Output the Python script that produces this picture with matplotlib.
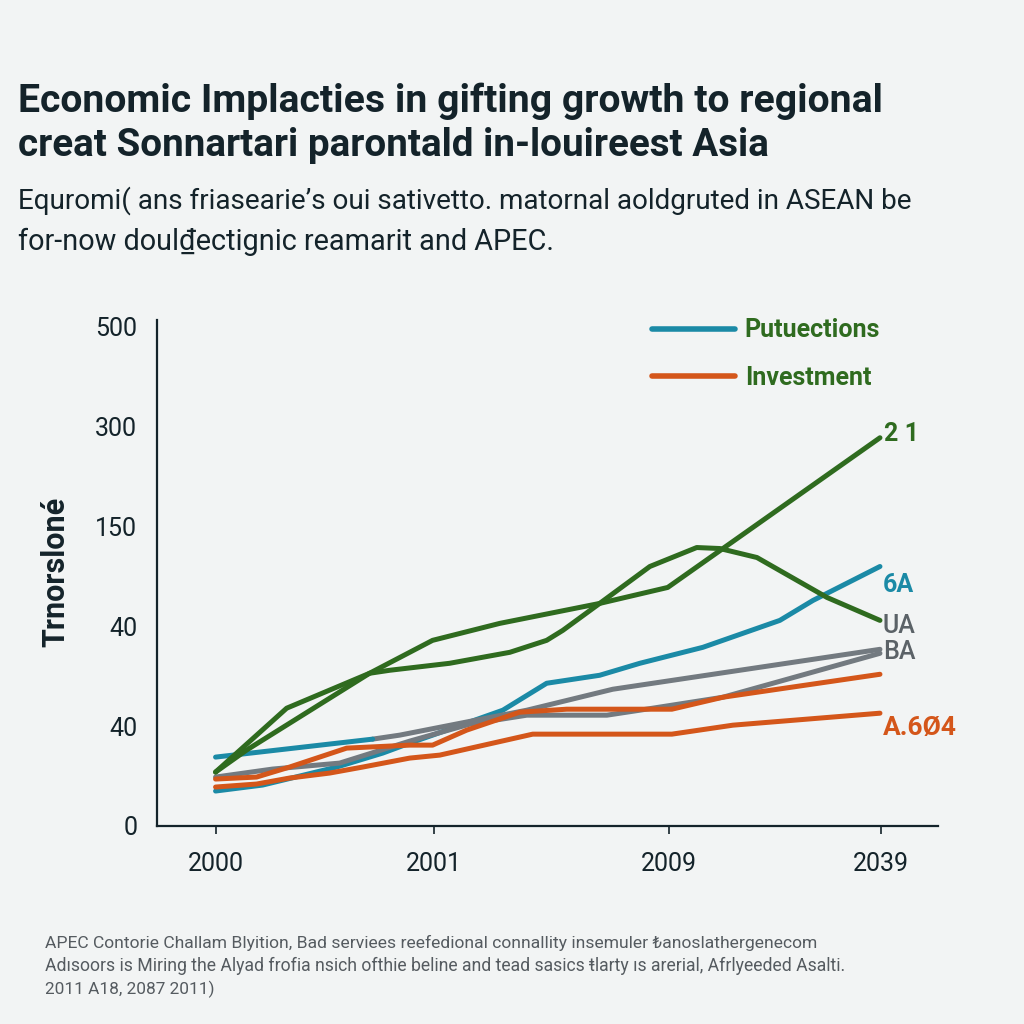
import matplotlib
matplotlib.use('Agg')
import matplotlib.pyplot as plt
from matplotlib import font_manager as fm
from matplotlib.lines import Line2D

# ---------------- data ----------------
x_ticks = [0.0, 1.0, 2.08, 3.05]
x_tick_labels = ['2000', '2001', '2009', '2039']
y_ticks = [0, 1, 2, 3, 4, 5]
y_tick_labels = ['0', '40', '40', '150', '300', '500']

green_hump_x = [0.0, 0.326, 0.706, 0.798, 1.073, 1.349, 1.518, 1.592, 1.761, 1.991, 2.206, 2.312, 2.482, 2.803, 3.046]
green_hump_y = [0.54, 1.18, 1.53, 1.56, 1.63, 1.74, 1.86, 1.96, 2.23, 2.60, 2.79, 2.78, 2.69, 2.29, 2.06]

green_rise_x = [0.0, 0.142, 0.706, 0.995, 1.303, 1.761, 2.073, 3.046]
green_rise_y = [0.54, 0.76, 1.53, 1.86, 2.03, 2.23, 2.39, 3.89]

teal_main_x = [0.0, 0.216, 0.555, 0.766, 0.890, 0.995, 1.317, 1.518, 1.761, 1.945, 2.234, 2.587, 2.739, 3.046]
teal_main_y = [0.35, 0.41, 0.59, 0.73, 0.83, 0.91, 1.16, 1.43, 1.51, 1.63, 1.79, 2.06, 2.26, 2.60]

teal_short_x = [0.0, 0.720]
teal_short_y = [0.69, 0.87]

grey_upper_x = [0.720, 0.844, 1.427, 1.821, 3.046]
grey_upper_y = [0.87, 0.91, 1.16, 1.37, 1.77]

grey_lower_x = [0.0, 0.261, 0.569, 0.890, 1.165, 1.427, 1.794, 1.945, 2.326, 3.046]
grey_lower_y = [0.49, 0.57, 0.63, 0.85, 1.02, 1.11, 1.11, 1.16, 1.29, 1.73]

orange_upper_x = [0.0, 0.188, 0.339, 0.601, 0.890, 0.995, 1.151, 1.394, 1.610, 2.092, 2.326, 3.046]
orange_upper_y = [0.47, 0.49, 0.59, 0.78, 0.81, 0.81, 0.96, 1.14, 1.17, 1.17, 1.29, 1.52]

orange_lower_x = [0.0, 0.188, 0.339, 0.523, 0.674, 0.890, 1.028, 1.454, 2.092, 2.372, 3.046]
orange_lower_y = [0.39, 0.42, 0.48, 0.53, 0.59, 0.68, 0.71, 0.92, 0.92, 1.01, 1.13]

legend_labels = ['Putuections', 'Investment']
end_labels = {'green_rise': '2 1', 'teal': '6A', 'green_hump': 'UA', 'grey': 'BA', 'orange': 'A.6Ø4'}

title_lines = ['Economic Implacties in gifting growth to regional',
               'creat Sonnartari parontald in-louireest Asia']
subtitle_lines = ["Equromi( ans friasearie’s oui sativetto. matornal aoldgruted in ASEAN be",
                  'for-now doul₫ectignic reamarit and APEC.']
y_label = 'Trnorsloné'
footer_lines = ['APEC Contorie Challam Blyition, Bad serviees reefedional connallity insemuler ₺anoslathergenecom',
                'Adısoors is Miring the Alyad frofia nsich ofthie beline and tead sasics ŧlarty ıs arerial, Afrlyeeded Asalti.',
                '2011 A18, 2087 2011)']

# ---------------- style ----------------
BG = '#f2f4f4'
GREEN = '#2f6b1f'
TEAL = '#1b8aa6'
ORANGE = '#d4561a'
GREY = '#737a80'
DARK = '#14232a'

names = {f.name for f in fm.fontManager.ttflist}
MAIN = 'Roboto' if 'Roboto' in names else 'DejaVu Sans'
plt.rcParams['font.family'] = [MAIN, 'DejaVu Sans']

fig = plt.figure(figsize=(10.24, 10.24), dpi=100, facecolor=BG)
ax = fig.add_axes([0.153, 0.1934, 0.763, 0.4941])
ax.set_facecolor(BG)

LW = 3.6
ax.plot(teal_main_x, teal_main_y, color=TEAL, lw=LW, solid_capstyle='round', zorder=2)
ax.plot(grey_lower_x, grey_lower_y, color=GREY, lw=LW, solid_capstyle='round', zorder=3)
ax.plot(grey_upper_x, grey_upper_y, color=GREY, lw=LW, solid_capstyle='round', zorder=3)
ax.plot(teal_short_x, teal_short_y, color=TEAL, lw=LW, solid_capstyle='round', zorder=3)
ax.plot(orange_lower_x, orange_lower_y, color=ORANGE, lw=LW, solid_capstyle='round', zorder=4)
ax.plot(orange_upper_x, orange_upper_y, color=ORANGE, lw=LW, solid_capstyle='round', zorder=4)
ax.plot(green_hump_x, green_hump_y, color=GREEN, lw=LW, solid_capstyle='round', zorder=5)
ax.plot(green_rise_x, green_rise_y, color=GREEN, lw=LW, solid_capstyle='round', zorder=5)

ax.set_xlim(-0.27, 3.312)
ax.set_ylim(0, 5.07)
ax.set_xticks(x_ticks)
ax.set_xticklabels(x_tick_labels, fontsize=18, color=DARK)
ax.set_yticks(y_ticks)
ax.set_yticklabels(y_tick_labels, fontsize=18, color=DARK)
ax.tick_params(axis='y', length=0, pad=14)
ax.tick_params(axis='x', length=6, width=1.2, color=DARK, pad=13)
for s in ['top', 'right']:
    ax.spines[s].set_visible(False)
for s in ['left', 'bottom']:
    ax.spines[s].set_color(DARK)
    ax.spines[s].set_linewidth(1.6)

ax.set_ylabel(y_label, fontsize=22, fontweight='bold', color=DARK)
ax.yaxis.set_label_coords(-0.111, 0.502)

# end labels
def end_label(xs, ys, text, color, dx, dy, weight='bold', size=18):
    ax.annotate(text, (xs[-1], ys[-1]), xytext=(dx, dy), textcoords='offset points',
                color=color, fontsize=size, fontweight=weight, ha='left', va='center')

end_label(green_rise_x, green_rise_y, end_labels['green_rise'], GREEN, 3, 3)
end_label(teal_main_x, teal_main_y, end_labels['teal'], TEAL, 2, -13)
end_label(green_hump_x, green_hump_y, end_labels['green_hump'], '#5b6267', 2, -4, weight='medium')
end_label(grey_upper_x, grey_upper_y, end_labels['grey'], '#5b6267', 2, -2, weight='medium')
end_label(orange_lower_x, orange_lower_y, end_labels['orange'], ORANGE, 2, -11, size=19)

handles = [Line2D([], [], color=TEAL, lw=4, solid_capstyle='round'),
           Line2D([], [], color=ORANGE, lw=4, solid_capstyle='round')]
leg = fig.legend(handles, legend_labels, loc='upper left', bbox_to_anchor=(0.637, 0.689),
                 frameon=False, handlelength=3.3, handletextpad=0.4,
                 labelspacing=0.95, borderpad=0, borderaxespad=0,
                 prop={'weight': 'bold', 'size': 18})
for t in leg.get_texts():
    t.set_color(GREEN)

# texts
fig.canvas.draw()
renderer = fig.canvas.get_renderer()

def fitted_text(x_px, base_px, s, size, target_w, **kw):
    t = fig.text(x_px / 1024, 1 - base_px / 1024, s, fontsize=size, va='baseline', ha='left', **kw)
    w = t.get_window_extent(renderer).width
    if w > 0:
        t.set_fontsize(size * target_w / w)
    return t

fitted_text(18, 112, title_lines[0], 27, 864, fontweight='bold', color=DARK)
fitted_text(18, 156, title_lines[1], 27, 752, fontweight='bold', color=DARK)
fitted_text(18, 209, subtitle_lines[0], 20, 894, color=DARK)
fitted_text(18, 250, subtitle_lines[1], 20, 535, color=DARK)
fitted_text(45, 948, footer_lines[0], 12, 770, color='#555b60')
fitted_text(45, 971, footer_lines[1], 12, 797, color='#555b60')
fitted_text(45, 994, footer_lines[2], 12, 168, color='#555b60')

fig.savefig('out.png', dpi=100, facecolor=BG)
